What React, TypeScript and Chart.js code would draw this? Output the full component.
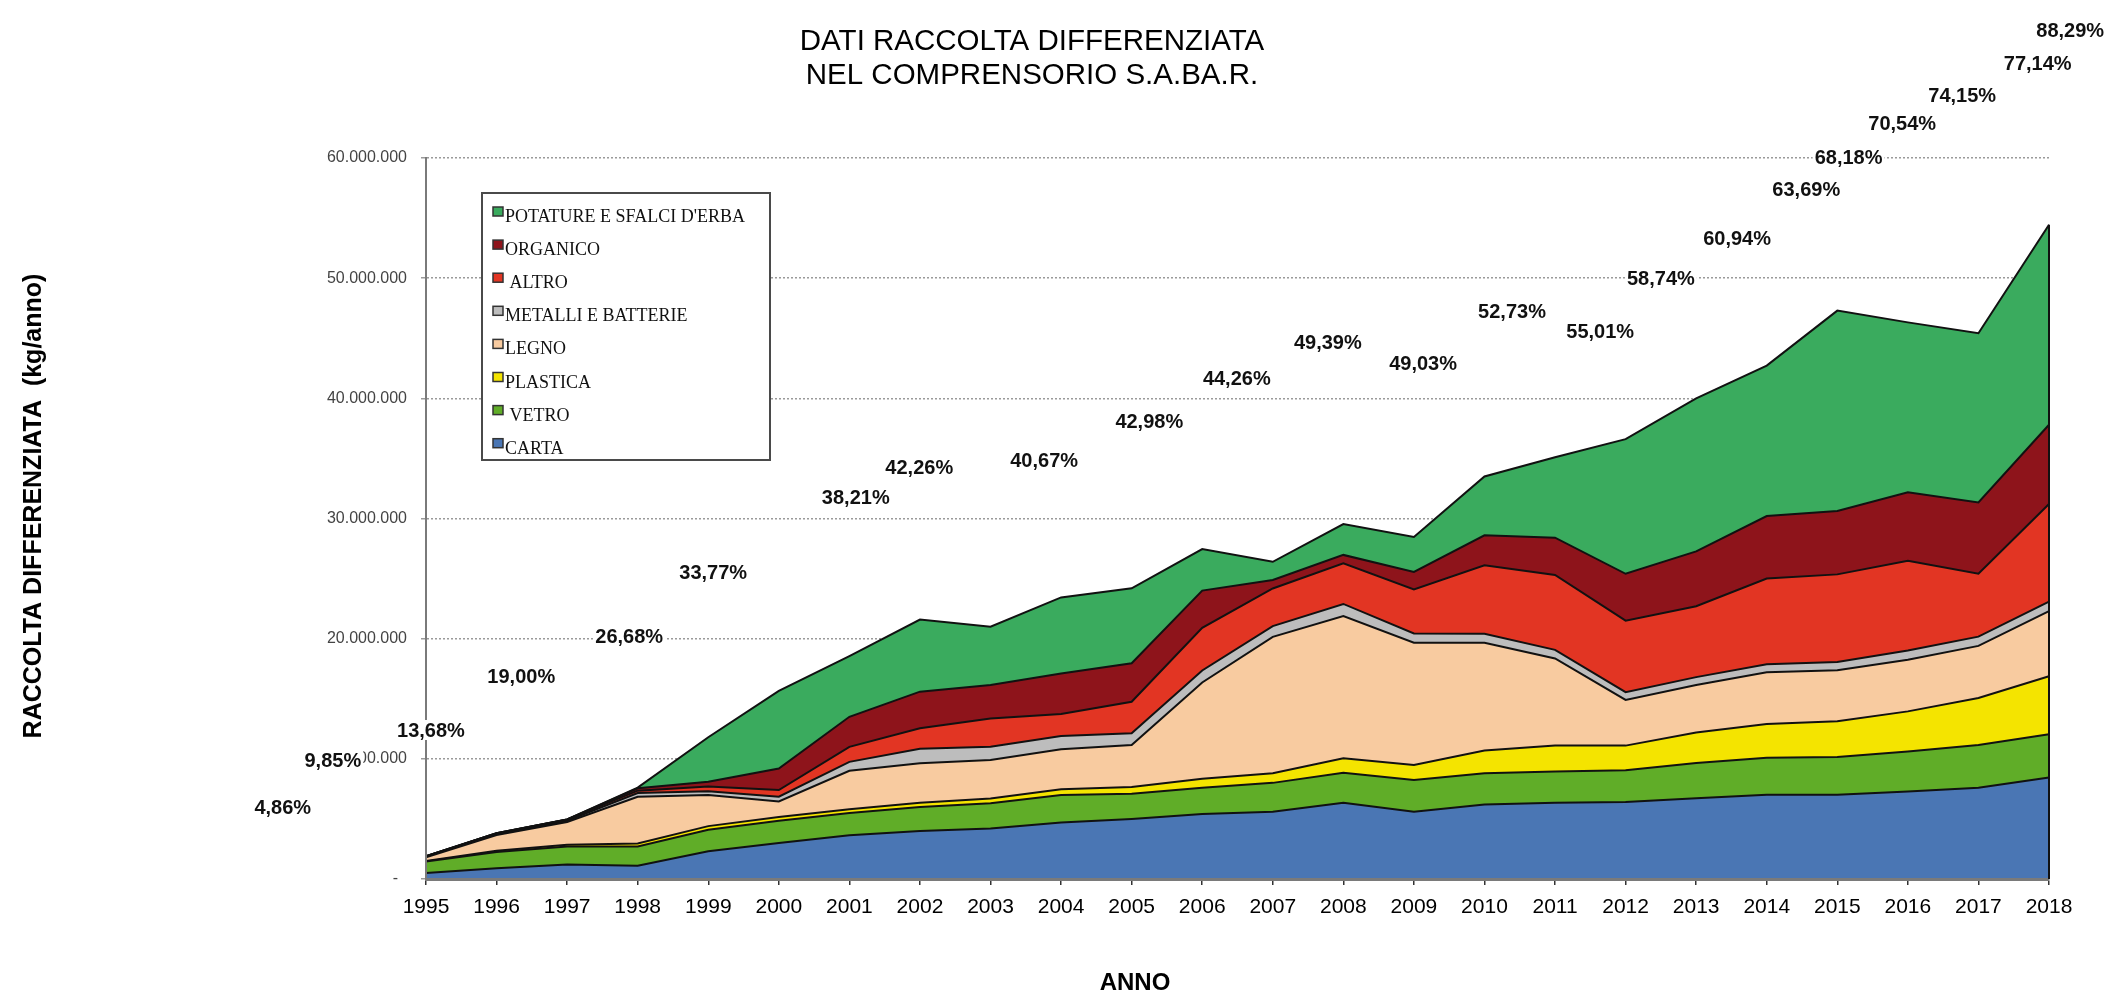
import React, { useEffect, useRef } from 'react';
import { Chart, registerables } from 'chart.js';

Chart.register(...registerables);

const SANS = '"Liberation Sans", Arial, Helvetica, sans-serif';
const SERIF = '"Liberation Serif", "Times New Roman", serif';

const TITLE_LINES = ['DATI RACCOLTA DIFFERENZIATA', 'NEL COMPRENSORIO S.A.BA.R.'];
const Y_TITLE = 'RACCOLTA DIFFERENZIATA  (kg/anno)';
const X_TITLE = 'ANNO';

const YEARS = ['1995', '1996', '1997', '1998', '1999', '2000', '2001', '2002', '2003', '2004', '2005', '2006',
  '2007', '2008', '2009', '2010', '2011', '2012', '2013', '2014', '2015', '2016', '2017', '2018'];

// values in kg/anno
const CARTA = [500000, 900000, 1200000, 1100000, 2300000, 3000000, 3650000, 4000000, 4200000, 4700000, 5000000, 5400000,
  5600000, 6350000, 5600000, 6200000, 6350000, 6400000, 6720000, 7020000, 7020000, 7280000, 7590000, 8440000];
const VETRO = [950000, 1350000, 1500000, 1600000, 1800000, 1850000, 1850000, 2000000, 2100000, 2300000, 2100000, 2200000,
  2400000, 2500000, 2640000, 2600000, 2600000, 2650000, 2930000, 3080000, 3130000, 3330000, 3560000, 3600000];
const PLASTICA = [50000, 100000, 150000, 250000, 300000, 300000, 300000, 340000, 400000, 470000, 550000, 750000,
  800000, 1200000, 1240000, 1900000, 2150000, 2050000, 2550000, 2800000, 2970000, 3340000, 3920000, 4830000];
const LEGNO = [300000, 1300000, 1900000, 3900000, 2600000, 1300000, 3200000, 3300000, 3200000, 3330000, 3500000, 8000000,
  11350000, 11840000, 10180000, 8950000, 7250000, 3800000, 3950000, 4300000, 4260000, 4290000, 4330000, 5430000];
const METALLI = [50000, 100000, 100000, 300000, 300000, 400000, 750000, 1200000, 1100000, 1100000, 970000, 1000000,
  900000, 1000000, 780000, 750000, 720000, 650000, 650000, 680000, 670000, 770000, 770000, 780000];
const ALTRO = [50000, 50000, 100000, 200000, 400000, 550000, 1250000, 1700000, 2350000, 1830000, 2630000, 3550000,
  3130000, 3380000, 3660000, 5700000, 6230000, 5950000, 5900000, 7120000, 7300000, 7480000, 5230000, 8130000];
const ORGANICO = [0, 0, 0, 200000, 400000, 1800000, 2500000, 3050000, 2800000, 3380000, 3200000, 3100000,
  700000, 700000, 1460000, 2500000, 3100000, 3900000, 4560000, 5200000, 5270000, 5690000, 5930000, 6590000];
const POTATURE = [0, 0, 0, 50000, 3700000, 6450000, 5050000, 6000000, 4850000, 6320000, 6240000, 3460000,
  1520000, 2570000, 2910000, 4900000, 6700000, 11200000, 12740000, 12520000, 16680000, 14140000, 14090000, 16650000];

const SERIES_NAMES = ['CARTA', ' VETRO', 'PLASTICA', 'LEGNO', 'METALLI E BATTERIE', ' ALTRO', 'ORGANICO', "POTATURE E SFALCI D'ERBA"];
const SERIES_DATA = [CARTA, VETRO, PLASTICA, LEGNO, METALLI, ALTRO, ORGANICO, POTATURE];
const SERIES_COLORS = ['#4a76b4', '#60ad28', '#f4e400', '#f8cba0', '#bdbdbd', '#e23523', '#8e141b', '#3aab5e'];

// percentage labels (text, anchor year, anchor value in kg)
const PCT_TEXT = ['4,86%', '9,85%', '13,68%', '19,00%', '26,68%', '33,77%', '38,21%', '42,26%', '40,67%', '42,98%',
  '44,26%', '49,39%', '49,03%', '52,73%', '55,01%', '58,74%', '60,94%', '63,69%', '68,18%', '70,54%', '74,15%', '77,14%', '88,29%'];
const PCT_AT_YEAR = [1992.97, 1993.68, 1995.07, 1996.35, 1997.88, 1999.07, 2001.09, 2001.99, 2003.76, 2005.25,
  2006.49, 2007.78, 2009.13, 2010.39, 2011.64, 2012.5, 2013.58, 2014.56, 2015.16, 2015.92, 2016.77, 2017.84, 2018.3];
const PCT_AT_KG = [5910000, 9900000, 12400000, 16830000, 20160000, 25480000, 31780000, 34250000, 34860000, 38050000,
  41680000, 44680000, 42860000, 47250000, 45550000, 50000000, 53290000, 57350000, 60070000, 62870000, 65220000, 67860000, 70630000];

const formatKg = (v: number) => (v === 0 ? '-  ' : String(Math.round(v)).replace(/\B(?=(\d{3})+(?!\d))/g, '.'));

const overlayPlugin = {
  id: 'overlay',
  afterDraw(chart: any) {
    const ctx = chart.ctx as CanvasRenderingContext2D;
    const xs = chart.scales.x;
    const ys = chart.scales.y;
    const area = chart.chartArea;
    ctx.save();

    // right edge of stacked area
    const metaTop = chart.getDatasetMeta(chart.data.datasets.length - 1);
    const last = metaTop.data[metaTop.data.length - 1];
    ctx.strokeStyle = '#111';
    ctx.lineWidth = 2;
    ctx.beginPath();
    ctx.moveTo(last.x, last.y);
    ctx.lineTo(last.x, ys.getPixelForValue(0));
    ctx.stroke();

    // title
    ctx.fillStyle = '#000';
    ctx.textAlign = 'center';
    ctx.textBaseline = 'middle';
    ctx.font = `29.5px ${SANS}`;
    ctx.fillText(TITLE_LINES[0], 1032, 42);
    ctx.fillText(TITLE_LINES[1], 1032, 76);

    // axis titles
    ctx.font = `bold 24px ${SANS}`;
    ctx.fillText(X_TITLE, 1135, 983);
    ctx.save();
    ctx.translate(34, 506);
    ctx.rotate(-Math.PI / 2);
    ctx.font = `bold 25px ${SANS}`;
    ctx.fillText(Y_TITLE, 0, 0);
    ctx.restore();

    // legend box
    const lx = area.left + 56;
    const ly = area.top + 35;
    const lw = 288;
    const lh = 267;
    ctx.fillStyle = '#fff';
    ctx.fillRect(lx, ly, lw, lh);
    ctx.strokeStyle = '#4a4a4a';
    ctx.lineWidth = 2;
    ctx.strokeRect(lx, ly, lw, lh);
    ctx.font = `18px ${SERIF}`;
    ctx.textAlign = 'left';
    ctx.textBaseline = 'alphabetic';
    const ds = chart.data.datasets;
    for (let k = 0; k < ds.length; k++) {
      const d = ds[ds.length - 1 - k];
      const base = ly + 29 + k * 33.1;
      ctx.fillStyle = d.backgroundColor;
      ctx.fillRect(lx + 11, base - 15, 10, 9);
      ctx.strokeStyle = '#333';
      ctx.lineWidth = 1.5;
      ctx.strokeRect(lx + 11, base - 15, 10, 9);
      ctx.fillStyle = '#111';
      ctx.fillText(d.label, lx + 23, base);
    }

    // percentage labels
    ctx.font = `bold 20px ${SANS}`;
    ctx.textAlign = 'center';
    ctx.textBaseline = 'middle';
    for (let i = 0; i < PCT_TEXT.length; i++) {
      const px = xs.getPixelForValue(PCT_AT_YEAR[i] - 1995);
      const py = ys.getPixelForValue(PCT_AT_KG[i]);
      const w = ctx.measureText(PCT_TEXT[i]).width;
      ctx.fillStyle = '#fff';
      ctx.fillRect(px - w / 2 - 2, py - 10, w + 4, 20);
      ctx.fillStyle = '#111';
      ctx.fillText(PCT_TEXT[i], px, py + 1);
    }
    ctx.restore();
  },
};

export default function App() {
  const ref = useRef<HTMLCanvasElement | null>(null);

  useEffect(() => {
    if (!ref.current) return;
    Chart.defaults.font.family = SANS;
    const chart = new Chart(ref.current, {
      type: 'line',
      data: {
        labels: YEARS,
        datasets: SERIES_DATA.map((data, i) => ({
          label: SERIES_NAMES[i],
          data,
          backgroundColor: SERIES_COLORS[i],
          borderColor: '#111',
          borderWidth: 2,
          fill: i === 0 ? 'origin' : '-1',
          pointRadius: 0,
          pointHoverRadius: 0,
          tension: 0,
        })),
      },
      options: {
        responsive: false,
        animation: false,
        events: [],
        layout: { padding: { top: 158, right: 67, bottom: 0, left: 0 } },
        plugins: {
          legend: { display: false },
          title: { display: false },
          tooltip: { enabled: false },
        },
        scales: {
          x: {
            type: 'category',
            offset: false,
            grid: { display: true, drawOnChartArea: false, drawTicks: true, tickLength: 6, color: '#333', lineWidth: 1.5 },
            border: { display: true, color: '#7a7a7a', width: 3, z: 1 },
            ticks: { color: '#000', font: { size: 21, family: SANS }, padding: 10, maxRotation: 0, autoSkip: false },
            afterFit: (s: any) => { s.height = 113; },
          },
          y: {
            stacked: true,
            min: 0,
            max: 60000000,
            ticks: { stepSize: 10000000, color: '#444', font: { size: 16, family: SANS }, padding: 14, callback: (v: any) => formatKg(Number(v)) },
            grid: { color: '#9a9a9a', lineWidth: 1.5, tickLength: 5, drawTicks: true },
            border: { display: true, color: '#7a7a7a', width: 2, dash: [2, 2], z: 1 },
            afterFit: (s: any) => { s.width = 426; },
          },
        },
      },
      plugins: [overlayPlugin],
    } as any);
    return () => chart.destroy();
  }, []);

  return (
    <div style={{ position: 'fixed', left: 0, top: 0, width: 2116, height: 992, background: '#fff' }}>
      <canvas ref={ref} width={2116} height={992} style={{ display: 'block', width: 2116, height: 992 }} />
    </div>
  );
}
